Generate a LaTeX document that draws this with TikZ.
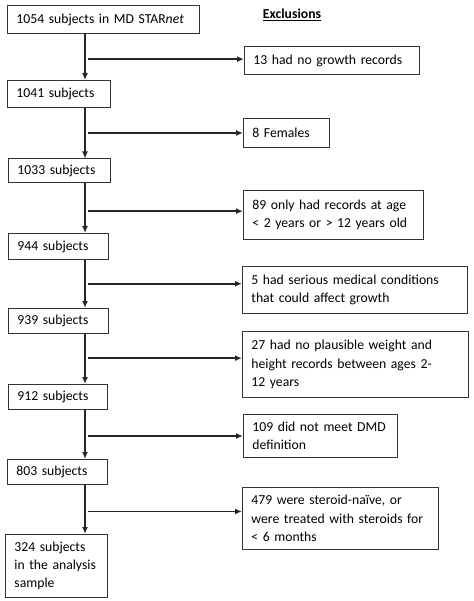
\documentclass[tikz,border=0pt]{standalone}
\usepackage{fontspec}
\setmainfont{Carlito}
\usetikzlibrary{positioning, arrows.meta}

\begin{document}
\begin{tikzpicture}[x=1pt, y=-1pt, every node/.style={font=\fontsize{13.7}{18.3}\selectfont}]
  % Styles
  \tikzset{
    stage/.style={rectangle, draw=black!80, line width=0.9pt, anchor=north west, align=left, inner xsep=9pt, inner ysep=0pt},
    excl/.style={stage},
    flow/.style={-{Latex[length=7pt, width=6pt]}, line width=1.5pt, black!85}
  }
  \useasboundingbox (0,0) rectangle (473,601);

  % Trunk line position
  \coordinate (trunk) at (85,0);

  % Remaining subjects
  \node[stage, text width=174pt, minimum height=28pt] (s1) at (7,5) {1054 subjects in MD STAR\textit{net}};
  \node[stage, text width=85pt, minimum height=27pt] (s2) at (7,80) {1041 subjects};
  \node[stage, text width=84pt, minimum height=24pt] (s3) at (8,158.5) {1033 subjects};
  \node[stage, text width=82pt, minimum height=26pt] (s4) at (8,233) {944 subjects};
  \node[stage, text width=82pt, minimum height=25pt] (s5) at (8,308) {939 subjects};
  \node[stage, text width=81pt, minimum height=25pt] (s6) at (8,384) {912 subjects};
  \node[stage, text width=82pt, minimum height=25pt] (s7) at (7,459) {803 subjects};
  \node[stage, text width=84pt, minimum height=63pt] (s8) at (5,534) {324 subjects\\in the analysis\\sample};

  % Exclusions
  \node[font=\fontsize{13.7}{17}\selectfont\bfseries] (title) at (292,15) {\underline{Exclusions}};
  \node[excl, text width=157pt, minimum height=28pt] (e1) at (244,46) {13 had no growth records};
  \node[excl, text width=68pt, minimum height=29pt] (e2) at (243,118) {8 Females};
  \node[excl, text width=162pt, minimum height=49pt] (e3) at (243,190) {89 only had records at age\\< 2 years or > 12 years old};
  \node[excl, text width=207pt, minimum height=47pt] (e4) at (242,266) {5 had serious medical conditions\\that could affect growth};
  \node[excl, text width=208pt, minimum height=66pt] (e5) at (242,331) {27 had no plausible weight and\\height records between ages 2-\\12 years};
  \node[excl, text width=136pt, minimum height=43pt] (e6) at (243,414) {109 did not meet DMD\\definition};
  \node[excl, text width=178pt, minimum height=62pt] (e7) at (242,487) {479 were steroid-naïve, or\\were treated with steroids for\\< 6 months};

  % Main flow
  \foreach \a/\b in {s1/s2, s2/s3, s3/s4, s4/s5, s5/s6, s6/s7, s7/s8}
    \draw[flow] (trunk |- \a.south) -- (trunk |- \b.north);

  % Exclusion arrows
  \foreach \e/\dy in {e1/1.3, e2/0, e3/3.8, e4/6.2, e5/6.3, e6/0, e7/7}
    \draw[flow] ([xshift=3pt, yshift=\dy pt]trunk |- \e.west) -- ([yshift=\dy pt]\e.west);

\end{tikzpicture}
\end{document}
